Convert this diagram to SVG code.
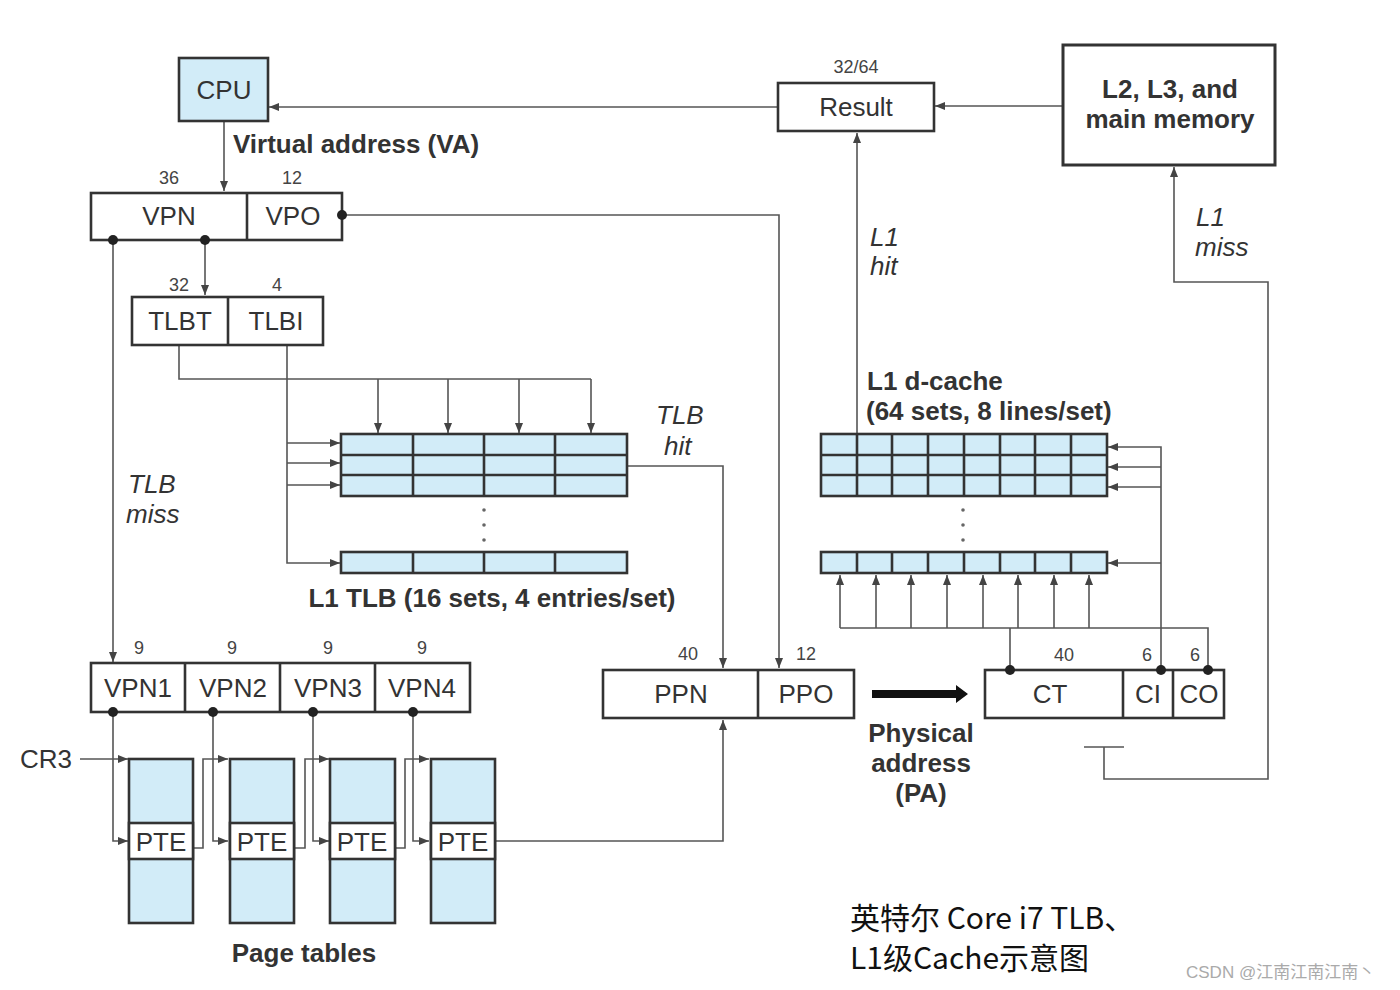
<svg xmlns="http://www.w3.org/2000/svg" width="1400" height="990" viewBox="0 0 1400 990">
<defs>
<style>
.box{fill:#fff;stroke:#333;stroke-width:2.6}
.blue{fill:#d2ecf8;stroke:#333;stroke-width:2.6}
.div{fill:none;stroke:#333;stroke-width:2.6}
.ln{fill:none;stroke:#555;stroke-width:1.6}
.t{font-family:"Liberation Sans",Arial,sans-serif;font-size:26px;fill:#333;text-anchor:middle}
.b{font-weight:bold}
.i{font-style:italic;text-anchor:start}
.n{font-family:"Liberation Sans",Arial,sans-serif;font-size:18px;fill:#444;text-anchor:middle}
.cn{font-family:"Noto Sans CJK SC",sans-serif;font-size:30px;fill:#111}
</style>
<marker id="ah" viewBox="0 0 10 8" refX="10" refY="4" markerWidth="10" markerHeight="8" markerUnits="userSpaceOnUse" orient="auto"><path d="M0,0 L10,4 L0,8 z" fill="#444"/></marker>
</defs>
<rect width="1400" height="990" fill="#fff"/>

<g id="connectors">
<path class="ln" d="M778,107 H269" marker-end="url(#ah)"/>
<path class="ln" d="M1062,106 H935" marker-end="url(#ah)"/>
<path class="ln" d="M224,121 V191" marker-end="url(#ah)"/>
<path class="ln" d="M342,215 H779 V668" marker-end="url(#ah)"/>
<path class="ln" d="M205,240 V295" marker-end="url(#ah)"/>
<path class="ln" d="M113,240 V662" marker-end="url(#ah)"/>
<path class="ln" d="M179,345 V379 H591"/>
<path class="ln" d="M378,379 V433" marker-end="url(#ah)"/>
<path class="ln" d="M448,379 V433" marker-end="url(#ah)"/>
<path class="ln" d="M519,379 V433" marker-end="url(#ah)"/>
<path class="ln" d="M591,379 V433" marker-end="url(#ah)"/>
<path class="ln" d="M287,345 V563 H340" marker-end="url(#ah)"/>
<path class="ln" d="M287,443 H340" marker-end="url(#ah)"/>
<path class="ln" d="M287,463 H340" marker-end="url(#ah)"/>
<path class="ln" d="M287,485 H340" marker-end="url(#ah)"/>
<path class="ln" d="M627,466 H723 V668" marker-end="url(#ah)"/>
<path class="ln" d="M496,841 H723 V720" marker-end="url(#ah)"/>
<path class="ln" d="M80,759 H128" marker-end="url(#ah)"/>
<path class="ln" d="M113,712 V841 H128" marker-end="url(#ah)"/>
<path class="ln" d="M213,712 V841 H228" marker-end="url(#ah)"/>
<path class="ln" d="M313,712 V841 H329" marker-end="url(#ah)"/>
<path class="ln" d="M413,712 V841 H429" marker-end="url(#ah)"/>
<path class="ln" d="M193,848 H203 V759 H228" marker-end="url(#ah)"/>
<path class="ln" d="M294,848 H305 V759 H329" marker-end="url(#ah)"/>
<path class="ln" d="M396,848 H405 V759 H429" marker-end="url(#ah)"/>
<path class="ln" d="M857,434 V133" marker-end="url(#ah)"/>
<path class="ln" d="M1010,670 V628 M840,628 H1208 V670"/>
<path class="ln" d="M840,628 V575" marker-end="url(#ah)"/>
<path class="ln" d="M876,628 V575" marker-end="url(#ah)"/>
<path class="ln" d="M911,628 V575" marker-end="url(#ah)"/>
<path class="ln" d="M947,628 V575" marker-end="url(#ah)"/>
<path class="ln" d="M983,628 V575" marker-end="url(#ah)"/>
<path class="ln" d="M1018,628 V575" marker-end="url(#ah)"/>
<path class="ln" d="M1054,628 V575" marker-end="url(#ah)"/>
<path class="ln" d="M1089,628 V575" marker-end="url(#ah)"/>
<path class="ln" d="M1161,670 V447 H1108" marker-end="url(#ah)"/>
<path class="ln" d="M1161,467 H1108" marker-end="url(#ah)"/>
<path class="ln" d="M1161,487 H1108" marker-end="url(#ah)"/>
<path class="ln" d="M1161,563 H1108" marker-end="url(#ah)"/>
<path class="ln" d="M1084,747 H1124 M1104,747 V779 H1268 V282 H1174 V167" marker-end="url(#ah)"/>
<polygon points="872,690 956,690 956,685 968,694 956,703 956,698 872,698" fill="#111"/>
</g>

<g id="cpu">
<rect class="blue" x="179" y="58" width="89" height="63"/>
<text class="t" x="224" y="99">CPU</text>
</g>
<text class="t b" x="233" y="153" style="text-anchor:start">Virtual address (VA)</text>

<g id="va">
<rect class="box" x="91" y="193" width="251" height="47"/>
<path class="div" d="M247,193 V240"/>
<text class="n" x="169" y="184">36</text>
<text class="n" x="292" y="184">12</text>
<text class="t" x="169" y="225">VPN</text>
<text class="t" x="293" y="225">VPO</text>
</g>

<g id="tlbtag">
<rect class="box" x="132" y="297" width="191" height="48"/>
<path class="div" d="M228,297 V345"/>
<text class="n" x="179" y="291">32</text>
<text class="n" x="277" y="291">4</text>
<text class="t" x="180" y="330">TLBT</text>
<text class="t" x="276" y="330">TLBI</text>
</g>

<g id="tlb">
<rect class="blue" x="341" y="434" width="286" height="62"/>
<path class="div" d="M341,455 H627 M341,475 H627 M413,434 V496 M484,434 V496 M555,434 V496"/>
<rect class="blue" x="341" y="552" width="286" height="21"/>
<path class="div" d="M413,552 V573 M484,552 V573 M555,552 V573"/>
<g fill="#666"><circle cx="484" cy="510" r="1.8"/><circle cx="484" cy="525" r="1.8"/><circle cx="484" cy="540" r="1.8"/></g>
<text class="t b" x="492" y="607">L1 TLB (16 sets, 4 entries/set)</text>
</g>
<text class="t i" x="656" y="424">TLB</text>
<text class="t i" x="664" y="455">hit</text>
<text class="t i" x="128" y="493">TLB</text>
<text class="t i" x="126" y="523">miss</text>

<g id="vpns">
<rect class="box" x="91" y="663" width="379" height="49"/>
<path class="div" d="M185,663 V712 M280,663 V712 M375,663 V712"/>
<text class="n" x="139" y="654">9</text>
<text class="n" x="232" y="654">9</text>
<text class="n" x="328" y="654">9</text>
<text class="n" x="422" y="654">9</text>
<text class="t" x="138" y="697">VPN1</text>
<text class="t" x="233" y="697">VPN2</text>
<text class="t" x="328" y="697">VPN3</text>
<text class="t" x="422" y="697">VPN4</text>
</g>
<text class="t" x="46" y="768">CR3</text>

<g id="pt1"><rect class="blue" x="129" y="759" width="64" height="164"/><rect class="box" x="129" y="823" width="64" height="36"/><text class="t" x="161" y="851">PTE</text></g>
<g id="pt2"><rect class="blue" x="230" y="759" width="64" height="164"/><rect class="box" x="230" y="823" width="64" height="36"/><text class="t" x="262" y="851">PTE</text></g>
<g id="pt3"><rect class="blue" x="330" y="759" width="65" height="164"/><rect class="box" x="330" y="823" width="65" height="36"/><text class="t" x="362" y="851">PTE</text></g>
<g id="pt4"><rect class="blue" x="431" y="759" width="64" height="164"/><rect class="box" x="431" y="823" width="64" height="36"/><text class="t" x="463" y="851">PTE</text></g>
<text class="t b" x="304" y="962">Page tables</text>

<g id="pa">
<rect class="box" x="603" y="670" width="251" height="48"/>
<path class="div" d="M758,670 V718"/>
<text class="n" x="688" y="660">40</text>
<text class="n" x="806" y="660">12</text>
<text class="t" x="681" y="703">PPN</text>
<text class="t" x="806" y="703">PPO</text>
</g>
<text class="t b" x="921" y="742">Physical</text>
<text class="t b" x="921" y="772">address</text>
<text class="t b" x="921" y="802">(PA)</text>

<g id="cachead">
<rect class="box" x="985" y="670" width="239" height="48"/>
<path class="div" d="M1123,670 V718 M1173,670 V718"/>
<text class="n" x="1064" y="661">40</text>
<text class="n" x="1147" y="661">6</text>
<text class="n" x="1195" y="661">6</text>
<text class="t" x="1050" y="703">CT</text>
<text class="t" x="1148" y="703">CI</text>
<text class="t" x="1199" y="703">CO</text>
</g>

<g id="dcache">
<rect class="blue" x="821" y="434" width="286" height="62"/>
<path class="div" d="M821,455 H1107 M821,475 H1107 M857,434 V496 M892,434 V496 M928,434 V496 M964,434 V496 M1000,434 V496 M1035,434 V496 M1071,434 V496"/>
<rect class="blue" x="821" y="552" width="286" height="21"/>
<path class="div" d="M857,552 V573 M892,552 V573 M928,552 V573 M964,552 V573 M1000,552 V573 M1035,552 V573 M1071,552 V573"/>
<g fill="#666"><circle cx="963" cy="510" r="1.8"/><circle cx="963" cy="525" r="1.8"/><circle cx="963" cy="540" r="1.8"/></g>
<text class="t b" x="867" y="390" style="text-anchor:start">L1 d-cache</text>
<text class="t b" x="866" y="420" style="text-anchor:start">(64 sets, 8 lines/set)</text>
</g>
<text class="t i" x="870" y="246">L1</text>
<text class="t i" x="870" y="275">hit</text>
<text class="t i" x="1196" y="226">L1</text>
<text class="t i" x="1195" y="256">miss</text>

<g id="result">
<rect class="box" x="778" y="83" width="156" height="48"/>
<text class="n" x="856" y="73">32/64</text>
<text class="t" x="856" y="116">Result</text>
</g>

<g id="memory">
<rect class="box" x="1063" y="45" width="212" height="120" style="stroke-width:3"/>
<text class="t b" x="1170" y="98">L2, L3, and</text>
<text class="t b" x="1170" y="128">main memory</text>
</g>

<g id="junctions" fill="#222">
<circle cx="342" cy="215" r="5"/>
<circle cx="113" cy="240" r="5"/>
<circle cx="205" cy="240" r="5"/>
<circle cx="113" cy="712" r="5"/>
<circle cx="213" cy="712" r="5"/>
<circle cx="313" cy="712" r="5"/>
<circle cx="413" cy="712" r="5"/>
<circle cx="1010" cy="670" r="5"/>
<circle cx="1161" cy="670" r="5"/>
<circle cx="1208" cy="670" r="5"/>
</g>

<text class="cn" x="850" y="929">英特尔 Core i7 TLB、</text>
<text class="cn" x="850" y="969">L1级Cache示意图</text>
<text x="1186" y="978" style="font-family:'Liberation Sans','Noto Sans CJK SC',sans-serif;font-size:17px;fill:#aaa">CSDN @江南江南江南丶</text>
</svg>
